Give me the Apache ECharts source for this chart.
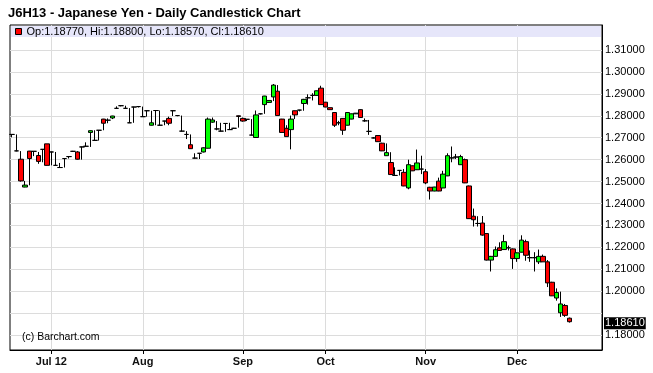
<!DOCTYPE html>
<html><head><meta charset="utf-8">
<script src="https://cdn.jsdelivr.net/npm/echarts@6/dist/echarts.min.js"></script>
<style>html,body{margin:0;padding:0;background:#fff}#c{width:653px;height:373px}</style>
</head><body><div id="c"></div>
<script>
const chartTitle = 'J6H13 - Japanese Yen - Daily Candlestick Chart';
const dates = [
'06-19','06-20','06-21','06-22','06-25','06-26','06-27','06-28','06-29',
'07-02','07-03','07-05','07-06','07-09','07-10','07-11','07-12','07-13','07-16','07-17','07-18','07-19','07-20','07-23','07-24','07-25','07-26','07-27','07-30','07-31',
'08-01','08-02','08-03','08-06','08-07','08-08','08-09','08-10','08-13','08-14','08-15','08-16','08-17','08-20','08-21','08-22','08-23','08-24','08-27','08-28','08-29','08-30','08-31',
'09-04','09-05','09-06','09-07','09-10','09-11','09-12','09-13','09-14','09-17','09-18','09-19','09-20','09-21','09-24','09-25','09-26','09-27','09-28',
'10-01','10-02','10-03','10-04','10-05','10-08','10-09','10-10','10-11','10-12','10-15','10-16','10-17','10-18','10-19','10-22','10-23','10-24','10-25','10-26','10-29','10-30','10-31',
'11-01','11-02','11-05','11-06','11-07','11-08','11-09','11-12','11-13','11-14','11-15','11-16','11-19','11-20','11-21','11-23','11-26','11-27','11-28','11-29','11-30',
'12-03','12-04','12-05','12-06','12-07','12-10','12-11','12-12','12-13','12-14','12-17','12-18','12-19',
'12-20','12-21','12-24','12-26','12-27','12-28','12-31'
];
const opens = [
1.2715,1.2640,1.2602,1.2475,1.2639,1.2638,1.2619,1.2647,1.2672,1.2635,
1.2574,1.2564,1.2605,1.2614,1.2638,1.2635,1.2658,1.2661,1.2724,1.2688,
1.2734,1.2785,1.2780,1.2790,1.2834,1.2846,1.2834,1.2768,1.2840,1.2842,
1.2796,1.2823,1.2757,1.2824,1.2757,1.2776,1.2788,1.2823,1.2801,1.2730,
1.2715,1.2668,1.2607,1.2629,1.2635,1.2652,1.2771,1.2740,1.2730,1.2765,
1.2737,1.2743,1.2800,1.2788,1.2784,1.2712,1.2701,1.2809,1.2851,1.2861,
1.2886,1.2912,1.2785,1.2743,1.2737,1.2823,1.2826,1.2856,1.2882,1.2893,
1.2893,1.2926,1.2862,1.2837,1.2815,1.2768,1.2788,1.2757,1.2785,1.2809,
1.2828,1.2777,1.2729,1.2699,1.2710,1.2675,1.2618,1.2587,1.2528,1.2551,
1.2542,1.2471,1.2572,1.2554,1.2557,1.2545,1.2474,1.2457,1.2502,1.2471,
1.2526,1.2608,1.2612,1.2577,1.2600,1.2480,1.2342,1.2309,1.2311,1.2263,
1.2142,1.2159,1.2198,1.2190,1.2198,1.2193,1.2149,1.2178,1.2226,1.2153,
1.2153,1.2134,1.2159,1.2134,1.2041,1.1969,1.1902,1.1935,1.1877
];
const closes = [
1.2715,1.2640,1.2503,1.2484,1.2605,1.2638,1.2592,1.2647,1.2574,1.2635,
1.2574,1.2564,1.2605,1.2614,1.2638,1.2602,1.2658,1.2661,1.2732,1.2688,
1.2734,1.2766,1.2780,1.2799,1.2834,1.2846,1.2834,1.2768,1.2840,1.2842,
1.2796,1.2823,1.2768,1.2824,1.2757,1.2776,1.2766,1.2823,1.2801,1.2730,
1.2715,1.2650,1.2607,1.2629,1.2654,1.2785,1.2781,1.2740,1.2730,1.2765,
1.2737,1.2743,1.2797,1.2776,1.2784,1.2712,1.2804,1.2809,1.2890,1.2870,
1.2940,1.2801,1.2724,1.2705,1.2785,1.2804,1.2826,1.2875,1.2882,1.2893,
1.2914,1.2851,1.2840,1.2828,1.2757,1.2768,1.2734,1.2815,1.2809,1.2812,
1.2792,1.2777,1.2729,1.2699,1.2682,1.2640,1.2632,1.2532,1.2528,1.2551,
1.2480,1.2577,1.2549,1.2585,1.2557,1.2494,1.2457,1.2475,1.2457,1.2534,
1.2618,1.2608,1.2612,1.2614,1.2494,1.2331,1.2326,1.2309,1.2256,1.2142,
1.2159,1.2189,1.2186,1.2226,1.2198,1.2149,1.2175,1.2233,1.2164,1.2153,
1.2153,1.2159,1.2134,1.2038,1.1979,1.1994,1.1942,1.1890,1.1861
];
const lows = [
1.2702,1.2638,1.2500,1.2474,1.2483,1.2616,1.2581,1.2588,1.2573,1.2574,
1.2573,1.2563,1.2564,1.2605,1.2636,1.2600,1.2600,1.2660,1.2658,1.2687,
1.2687,1.2734,1.2766,1.2785,1.2833,1.2843,1.2833,1.2767,1.2768,1.2838,
1.2795,1.2796,1.2756,1.2757,1.2756,1.2757,1.2757,1.2799,1.2798,1.2729,
1.2694,1.2649,1.2606,1.2603,1.2633,1.2651,1.2768,1.2734,1.2729,1.2727,
1.2736,1.2741,1.2746,1.2773,1.2776,1.2711,1.2701,1.2806,1.2809,1.2860,
1.2867,1.2801,1.2724,1.2705,1.2647,1.2785,1.2820,1.2823,1.2851,1.2870,
1.2892,1.2850,1.2839,1.2827,1.2749,1.2757,1.2713,1.2756,1.2784,1.2808,
1.2791,1.2773,1.2713,1.2697,1.2681,1.2639,1.2617,1.2530,1.2527,1.2528,
1.2479,1.2465,1.2548,1.2553,1.2534,1.2488,1.2418,1.2456,1.2456,1.2470,
1.2525,1.2588,1.2603,1.2576,1.2493,1.2330,1.2295,1.2295,1.2253,1.2140,
1.2090,1.2158,1.2185,1.2189,1.2186,1.2102,1.2134,1.2177,1.2139,1.2134,
1.2090,1.2124,1.2133,1.2019,1.1978,1.1957,1.1883,1.1883,1.1857
];
const highs = [
1.2716,1.2715,1.2639,1.2503,1.2640,1.2639,1.2635,1.2648,1.2672,1.2636,
1.2635,1.2585,1.2606,1.2615,1.2640,1.2639,1.2659,1.2679,1.2733,1.2734,
1.2735,1.2786,1.2788,1.2800,1.2843,1.2848,1.2846,1.2835,1.2841,1.2843,
1.2842,1.2824,1.2823,1.2825,1.2824,1.2777,1.2796,1.2824,1.2802,1.2801,
1.2730,1.2715,1.2629,1.2630,1.2656,1.2792,1.2792,1.2776,1.2768,1.2766,
1.2768,1.2745,1.2801,1.2792,1.2785,1.2785,1.2824,1.2811,1.2891,1.2871,
1.2945,1.2940,1.2786,1.2757,1.2801,1.2824,1.2827,1.2877,1.2898,1.2903,
1.2915,1.2937,1.2863,1.2838,1.2816,1.2777,1.2789,1.2816,1.2810,1.2813,
1.2830,1.2788,1.2781,1.2703,1.2712,1.2677,1.2674,1.2634,1.2565,1.2552,
1.2557,1.2600,1.2574,1.2646,1.2618,1.2557,1.2476,1.2476,1.2518,1.2549,
1.2629,1.2660,1.2626,1.2622,1.2605,1.2482,1.2377,1.2342,1.2343,1.2265,
1.2161,1.2204,1.2223,1.2257,1.2208,1.2195,1.2177,1.2255,1.2235,1.2186,
1.2178,1.2190,1.2167,1.2142,1.2043,1.2013,1.1998,1.1942,1.1880
];
const monthStarts = ['07-02','08-01','09-04','10-01','11-01','12-03'];
const monthLabels = ['Jul 12','Aug','Sep','Oct','Nov','Dec'];
const priceTicks = [1.18,1.19,1.20,1.21,1.22,1.23,1.24,1.25,1.26,1.27,1.28,1.29,1.30,1.31];
const priceLabels = [1.18,1.20,1.21,1.22,1.23,1.24,1.25,1.26,1.27,1.28,1.29,1.30,1.31];

const FONT = '"Liberation Sans", Arial, sans-serif';
const last = closes.length - 1;
const legendText = 'Op:' + opens[last].toFixed(5) + ', Hi:' + highs[last].toFixed(5) +
  ', Lo:' + lows[last].toFixed(5) + ', Cl:' + closes[last].toFixed(5);
const candles = opens.map((o, i) => [o, closes[i], lows[i], highs[i]]);
const isMonth = (idx, val) => monthStarts.indexOf(val) >= 0;

const gridMarks = priceTicks.map(v => ({ yAxis: v }))
  .concat(monthStarts.map(d => ({ xAxis: d })));

const chart = echarts.init(document.getElementById('c'), null, { renderer: 'canvas' });
chart.setOption({
  animation: false,
  backgroundColor: '#fff',
  title: {
    text: chartTitle, left: 8, top: 7, padding: 0,
    textStyle: { fontFamily: FONT, fontSize: 13, fontWeight: 'bold', color: '#000' }
  },
  legend: {
    left: 15, top: 26, padding: 0, selectedMode: false,
    itemWidth: 6, itemHeight: 6, z: 5,
    data: [{ name: legendText, icon: 'rect',
      itemStyle: { color: '#ff0000', borderColor: '#000', borderWidth: 1 } }],
    textStyle: { fontFamily: FONT, fontSize: 11, color: '#000' }
  },
  grid: {
    left: 10, right: 51, top: 25, bottom: 23,
    show: true, borderColor: '#000', borderWidth: 1, backgroundColor: 'transparent'
  },
  graphic: [
    { type: 'rect', z: 3, shape: { x: 11, y: 26, width: 590, height: 11 }, style: { fill: '#e6e6fa' } },
    { type: 'text', z: 3, left: 22, top: 332,
      style: { text: '(c) Barchart.com', font: '10.5px ' + FONT, fill: '#000' } }
  ],
  xAxis: {
    type: 'category', data: dates, boundaryGap: true,
    axisLine: { show: true, lineStyle: { color: '#000', width: 1 } },
    axisTick: { show: true, alignWithLabel: true, interval: isMonth, length: 4, lineStyle: { color: '#000' } },
    axisLabel: {
      interval: isMonth, margin: 6,
      formatter: v => monthLabels[monthStarts.indexOf(v)] || '',
      fontFamily: FONT, fontSize: 11, fontWeight: 'bold', color: '#111'
    },
    splitLine: { show: false }
  },
  yAxis: {
    type: 'value', position: 'right', min: 1.1732, max: 1.3214, scale: true,
    axisLine: { show: true, lineStyle: { color: '#000' } },
    axisTick: { show: true, inside: true, length: 4, customValues: priceTicks, lineStyle: { color: '#000' } },
    axisLabel: {
      show: true, margin: 3, customValues: priceLabels,
      formatter: v => Number(v).toFixed(5),
      fontFamily: FONT, fontSize: 11, color: '#000'
    },
    splitLine: { show: false }
  },
  series: [
    {
      type: 'line', data: [], z: 1, silent: true,
      markLine: {
        z: 1, silent: true, symbol: ['none', 'none'], animation: false,
        label: { show: false },
        lineStyle: { color: '#dcdcdc', width: 1, type: 'solid' },
        emphasis: { disabled: true },
        data: gridMarks
      }
    },
    {
      name: legendText, type: 'candlestick', data: candles, z: 2,
      barWidth: 5,
      itemStyle: {
        color: '#00ff00', color0: '#ff0000',
        borderColor: '#000', borderColor0: '#000', borderColorDoji: '#000', borderWidth: 1
      }
    },
    {
      type: 'line', data: [], z: 6, silent: true, clip: false,
      markLine: {
        z: 6, silent: true, symbol: ['none', 'none'], animation: false,
        lineStyle: { color: 'rgba(0,0,0,0)', width: 1 },
        emphasis: { disabled: true },
        label: {
          show: true, position: 'end', distance: 2, offset: [0, 10],
          formatter: () => closes[last].toFixed(5),
          backgroundColor: '#000', color: '#fff', padding: [1, 1, 0, 1], lineHeight: 11,
          fontFamily: FONT, fontSize: 11
        },
        data: [{ yAxis: closes[last] }]
      }
    }
  ]
});
</script></body></html>
